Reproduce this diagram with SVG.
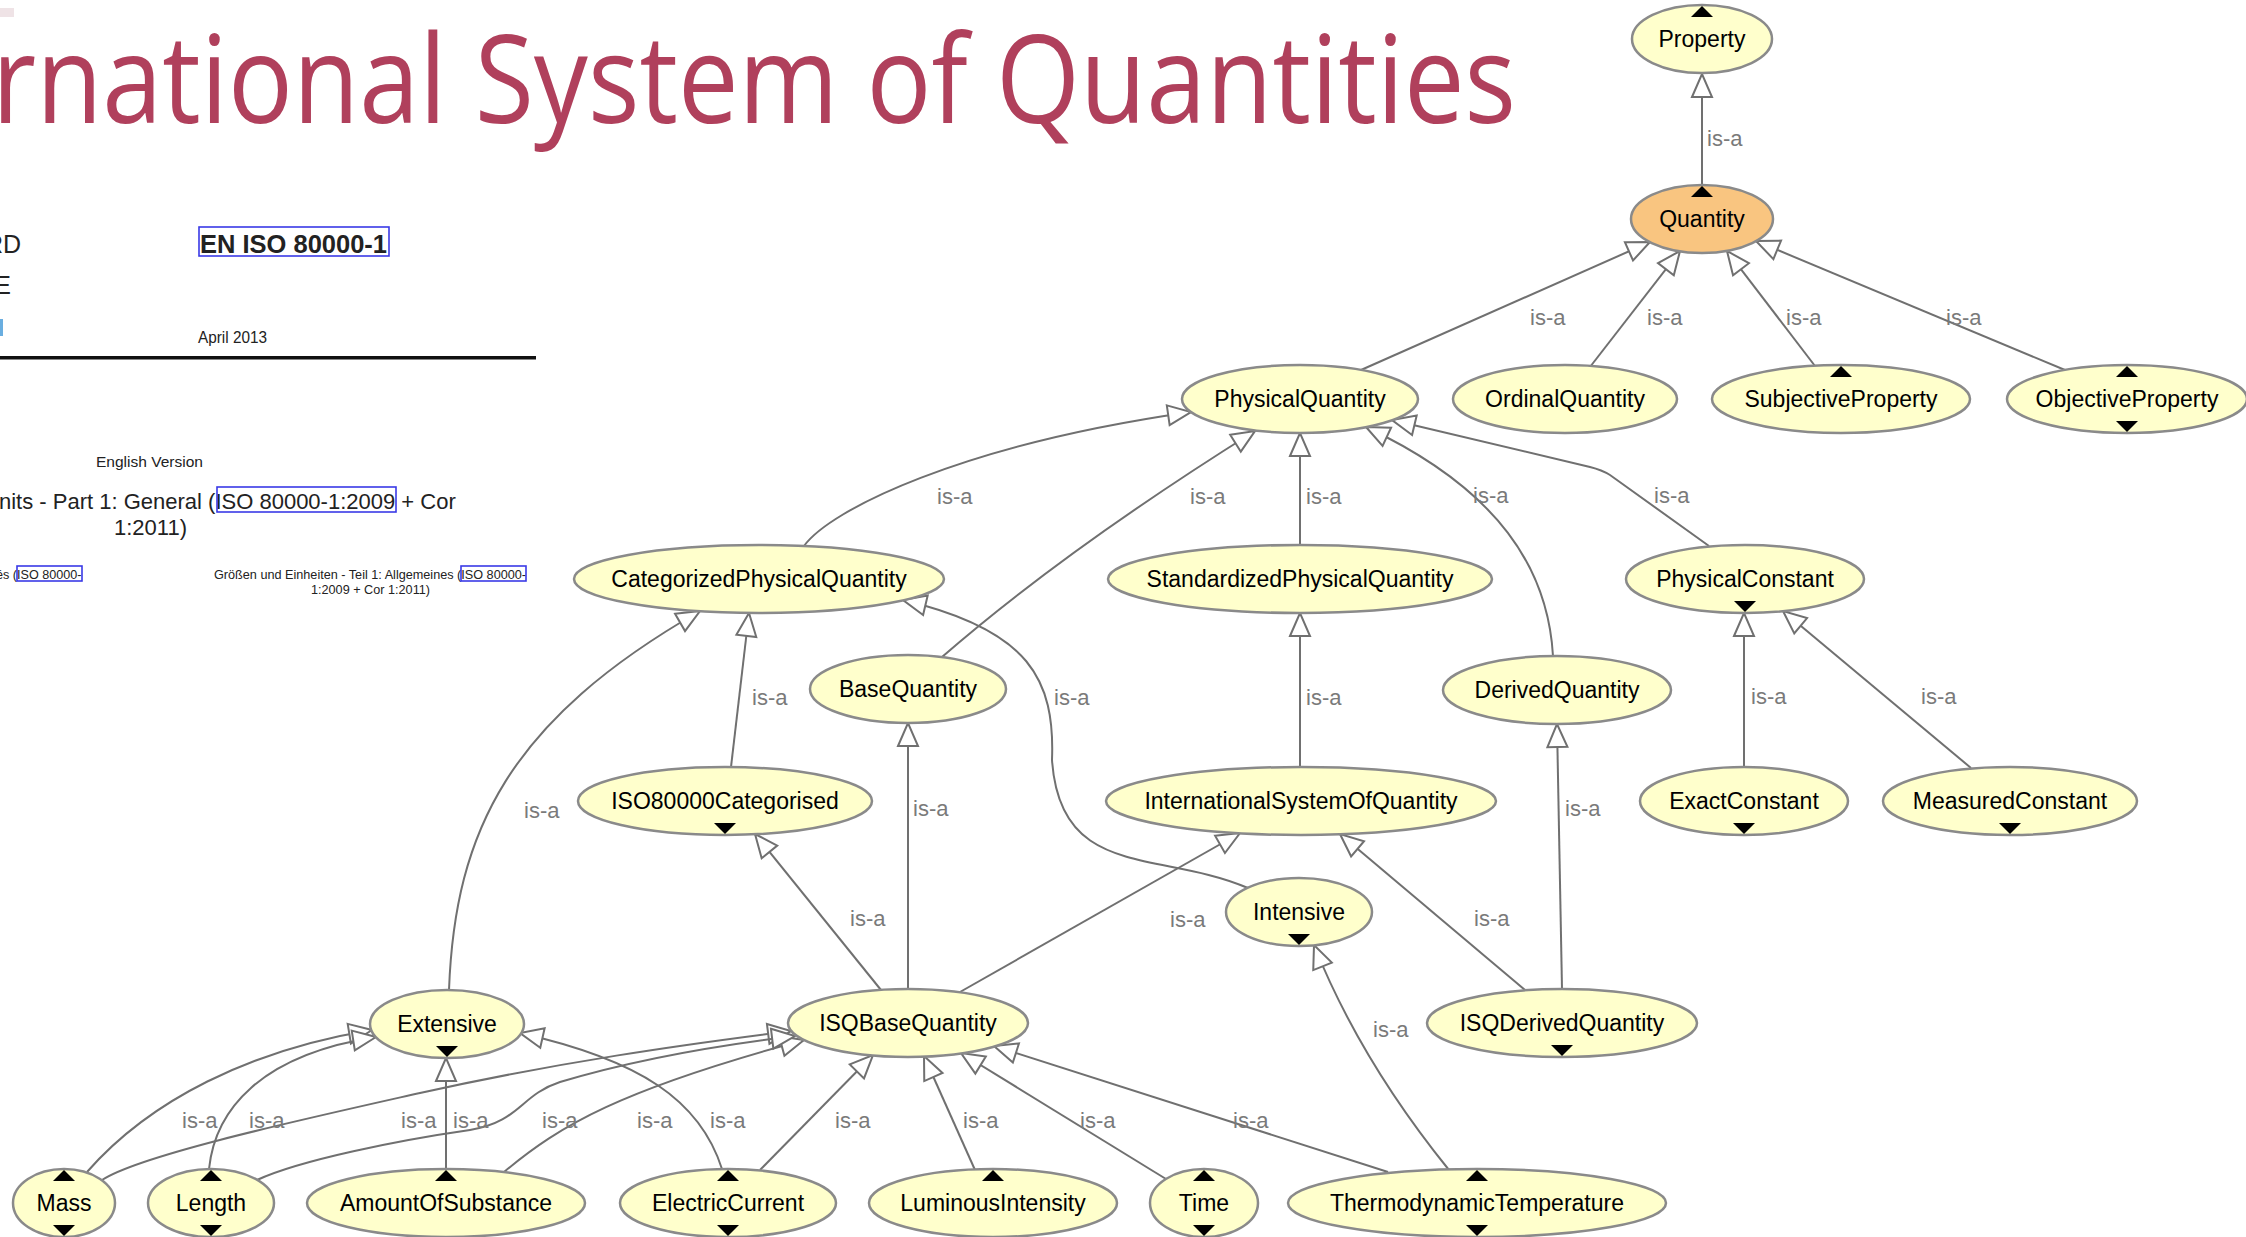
<svg xmlns="http://www.w3.org/2000/svg" width="2246" height="1237" viewBox="0 0 2246 1237">
<defs>
<marker id="ar" markerUnits="userSpaceOnUse" markerWidth="28" markerHeight="26" viewBox="0 0 28 26" refX="25" refY="13" orient="auto">
<path d="M2,3 L25,13 L2,23 Z" fill="#ffffff" stroke="#707070" stroke-width="2" stroke-linejoin="miter"/>
</marker>
<style>
.n ellipse{fill:#ffffcc;stroke:#8a8a8a;stroke-width:2.5}
.n text{font-family:"Liberation Sans",Arial,sans-serif;font-size:23px;text-anchor:middle;fill:#000}
.n polygon{fill:#000}
#Quantity ellipse{fill:#f9c580}
.e path{fill:none;stroke:#707070;stroke-width:2;marker-end:url(#ar)}
.l{font-family:"Liberation Sans",Arial,sans-serif;font-size:22px;fill:#7a7a7a}
.d{font-family:"Liberation Sans",Arial,sans-serif;fill:#222}
.bx{fill:none;stroke:#3a3ae6;stroke-width:1.6}
</style>
</defs>
<rect width="2246" height="1237" fill="#ffffff"/>

<!-- background slide content -->
<g id="slide">
<rect x="0" y="8" width="14" height="9" fill="#efe3e6"/>
<text x="-8" y="123" font-family="Open Sans, sans-serif" font-size="122" fill="#b0405c" textLength="1524" lengthAdjust="spacingAndGlyphs">rnational System of Quantities</text>
<text class="d" x="21" y="253" font-size="25" text-anchor="end" fill="#333">RD</text>
<text class="d" x="11" y="294" font-size="25" text-anchor="end" fill="#333">E</text>
<rect x="0" y="319" width="3" height="17" fill="#6aaee0"/>
<rect class="bx" x="199" y="227" width="190" height="29" stroke-width="2"/>
<text class="d" x="200" y="253" font-size="26" font-weight="bold" fill="#111" textLength="187" lengthAdjust="spacingAndGlyphs">EN ISO 80000-1</text>
<text class="d" x="198" y="343" font-size="16" textLength="69" lengthAdjust="spacingAndGlyphs">April 2013</text>
<rect x="0" y="356" width="536" height="3.5" fill="#111"/>
<text class="d" x="96" y="467" font-size="15" textLength="107" lengthAdjust="spacingAndGlyphs">English Version</text>
<text class="d" x="-1" y="509" font-size="22">nits - Part 1: General (ISO 80000-1:2009 + Cor</text>
<rect class="bx" x="217" y="487" width="179" height="25"/>
<text class="d" x="114" y="535" font-size="22">1:2011)</text>
<text class="d" x="-4" y="579" font-size="12.6">és (ISO 80000-</text>
<rect class="bx" x="17" y="566" width="65" height="15"/>
<text class="d" x="214" y="579" font-size="12.6" textLength="312" lengthAdjust="spacingAndGlyphs">Größen und Einheiten - Teil 1: Allgemeines (ISO 80000-</text>
<rect class="bx" x="461" y="566" width="65" height="15"/>
<text class="d" x="311" y="594" font-size="12.6" textLength="119" lengthAdjust="spacingAndGlyphs">1:2009 + Cor 1:2011)</text>
</g>

<g id="connectors" class="e">
<path d="M1702 185 L1702 74"/>
<path d="M1361 370 L1650 242"/>
<path d="M1590 367 L1680 251"/>
<path d="M1815 366 L1727 251"/>
<path d="M2065 370 L1756 241"/>
<path d="M804 546 C830 510 960 445 1191 412"/>
<path d="M942 657 Q1065 550 1255 431"/>
<path d="M1300 545 L1300 433"/>
<path d="M1553 656 C1548 570 1500 490 1366 427"/>
<path d="M1709 546 L1610 475 Q1602 470 1590 467 L1392 420"/>
<path d="M731 767 L749 613"/>
<path d="M449 990 C455 830 510 720 700 611"/>
<path d="M1248 888 C1160 850 1060 880 1052 760 C1055 680 1030 630 903 600"/>
<path d="M908 989 L908 723"/>
<path d="M881 990 L755 834"/>
<path d="M960 992 L1240 833"/>
<path d="M1300 767 L1300 613"/>
<path d="M1525 990 L1340 834"/>
<path d="M1562 989 L1557 724"/>
<path d="M1744 767 L1744 613"/>
<path d="M1971 768 L1783 611"/>
<path d="M1449 1170 Q1360 1060 1314 945"/>
<path d="M1388 1172 L994 1046"/>
<path d="M1166 1179 L961 1053"/>
<path d="M975 1170 L924 1056"/>
<path d="M760 1170 L873 1055"/>
<path d="M722 1169 C700 1100 640 1060 520 1033"/>
<path d="M446 1169 L446 1058"/>
<path d="M504 1172 C560 1125 620 1090 804 1040"/>
<path d="M87 1172 C150 1100 250 1050 372 1030"/>
<path d="M209 1169 C215 1110 260 1055 376 1037"/>
<path d="M102 1180 C140 1155 300 1120 420 1093 C560 1062 680 1045 791 1031"/>
<path d="M257 1180 C300 1160 400 1140 470 1130 C520 1122 520 1095 560 1082 C640 1058 720 1045 795 1036"/>
<g id="labels">
<text class="l" x="1707" y="146">is-a</text>
<text class="l" x="1530" y="325">is-a</text>
<text class="l" x="1647" y="325">is-a</text>
<text class="l" x="1786" y="325">is-a</text>
<text class="l" x="1946" y="325">is-a</text>
<text class="l" x="937" y="504">is-a</text>
<text class="l" x="1190" y="504">is-a</text>
<text class="l" x="1306" y="504">is-a</text>
<text class="l" x="1473" y="503">is-a</text>
<text class="l" x="1654" y="503">is-a</text>
<text class="l" x="752" y="705">is-a</text>
<text class="l" x="1054" y="705">is-a</text>
<text class="l" x="1306" y="705">is-a</text>
<text class="l" x="1751" y="704">is-a</text>
<text class="l" x="1921" y="704">is-a</text>
<text class="l" x="524" y="818">is-a</text>
<text class="l" x="913" y="816">is-a</text>
<text class="l" x="1565" y="816">is-a</text>
<text class="l" x="850" y="926">is-a</text>
<text class="l" x="1170" y="927">is-a</text>
<text class="l" x="1474" y="926">is-a</text>
<text class="l" x="1373" y="1037">is-a</text>
<text class="l" x="182" y="1128">is-a</text>
<text class="l" x="249" y="1128">is-a</text>
<text class="l" x="401" y="1128">is-a</text>
<text class="l" x="453" y="1128">is-a</text>
<text class="l" x="542" y="1128">is-a</text>
<text class="l" x="637" y="1128">is-a</text>
<text class="l" x="710" y="1128">is-a</text>
<text class="l" x="835" y="1128">is-a</text>
<text class="l" x="963" y="1128">is-a</text>
<text class="l" x="1080" y="1128">is-a</text>
<text class="l" x="1233" y="1128">is-a</text>
</g>
</g>

<g id="Property" class="n"><ellipse cx="1702" cy="39" rx="70" ry="34"/><text x="1702" y="47">Property</text><polygon points="1691,17 1713,17 1702,6"/></g>
<g id="Quantity" class="n"><ellipse cx="1702" cy="219" rx="71" ry="34"/><text x="1702" y="227">Quantity</text><polygon points="1691,197 1713,197 1702,186"/></g>
<g id="PhysicalQuantity" class="n"><ellipse cx="1300" cy="399" rx="118" ry="34"/><text x="1300" y="407">PhysicalQuantity</text></g>
<g id="OrdinalQuantity" class="n"><ellipse cx="1565" cy="399" rx="112" ry="34"/><text x="1565" y="407">OrdinalQuantity</text></g>
<g id="SubjectiveProperty" class="n"><ellipse cx="1841" cy="399" rx="129" ry="34"/><text x="1841" y="407">SubjectiveProperty</text><polygon points="1830,377 1852,377 1841,366"/></g>
<g id="ObjectiveProperty" class="n"><ellipse cx="2127" cy="399" rx="120" ry="34"/><text x="2127" y="407">ObjectiveProperty</text><polygon points="2116,377 2138,377 2127,366"/><polygon points="2116,421 2138,421 2127,432"/></g>
<g id="CategorizedPhysicalQuantity" class="n"><ellipse cx="759" cy="579" rx="185" ry="34"/><text x="759" y="587">CategorizedPhysicalQuantity</text></g>
<g id="StandardizedPhysicalQuantity" class="n"><ellipse cx="1300" cy="579" rx="192" ry="34"/><text x="1300" y="587">StandardizedPhysicalQuantity</text></g>
<g id="PhysicalConstant" class="n"><ellipse cx="1745" cy="579" rx="119" ry="34"/><text x="1745" y="587">PhysicalConstant</text><polygon points="1734,601 1756,601 1745,612"/></g>
<g id="BaseQuantity" class="n"><ellipse cx="908" cy="689" rx="98" ry="34"/><text x="908" y="697">BaseQuantity</text></g>
<g id="DerivedQuantity" class="n"><ellipse cx="1557" cy="690" rx="114" ry="34"/><text x="1557" y="698">DerivedQuantity</text></g>
<g id="ISO80000Categorised" class="n"><ellipse cx="725" cy="801" rx="147" ry="34"/><text x="725" y="809">ISO80000Categorised</text><polygon points="714,823 736,823 725,834"/></g>
<g id="InternationalSystemOfQuantity" class="n"><ellipse cx="1301" cy="801" rx="195" ry="34"/><text x="1301" y="809">InternationalSystemOfQuantity</text></g>
<g id="ExactConstant" class="n"><ellipse cx="1744" cy="801" rx="104" ry="34"/><text x="1744" y="809">ExactConstant</text><polygon points="1733,823 1755,823 1744,834"/></g>
<g id="MeasuredConstant" class="n"><ellipse cx="2010" cy="801" rx="127" ry="34"/><text x="2010" y="809">MeasuredConstant</text><polygon points="1999,823 2021,823 2010,834"/></g>
<g id="Intensive" class="n"><ellipse cx="1299" cy="912" rx="73" ry="34"/><text x="1299" y="920">Intensive</text><polygon points="1288,934 1310,934 1299,945"/></g>
<g id="Extensive" class="n"><ellipse cx="447" cy="1024" rx="77" ry="34"/><text x="447" y="1032">Extensive</text><polygon points="436,1046 458,1046 447,1057"/></g>
<g id="ISQBaseQuantity" class="n"><ellipse cx="908" cy="1023" rx="120" ry="34"/><text x="908" y="1031">ISQBaseQuantity</text></g>
<g id="ISQDerivedQuantity" class="n"><ellipse cx="1562" cy="1023" rx="135" ry="34"/><text x="1562" y="1031">ISQDerivedQuantity</text><polygon points="1551,1045 1573,1045 1562,1056"/></g>
<g id="Mass" class="n"><ellipse cx="64" cy="1203" rx="51" ry="34"/><text x="64" y="1211">Mass</text><polygon points="53,1181 75,1181 64,1170"/><polygon points="53,1225 75,1225 64,1236"/></g>
<g id="Length" class="n"><ellipse cx="211" cy="1203" rx="63" ry="34"/><text x="211" y="1211">Length</text><polygon points="200,1181 222,1181 211,1170"/><polygon points="200,1225 222,1225 211,1236"/></g>
<g id="AmountOfSubstance" class="n"><ellipse cx="446" cy="1203" rx="139" ry="34"/><text x="446" y="1211">AmountOfSubstance</text><polygon points="435,1181 457,1181 446,1170"/></g>
<g id="ElectricCurrent" class="n"><ellipse cx="728" cy="1203" rx="108" ry="34"/><text x="728" y="1211">ElectricCurrent</text><polygon points="717,1181 739,1181 728,1170"/><polygon points="717,1225 739,1225 728,1236"/></g>
<g id="LuminousIntensity" class="n"><ellipse cx="993" cy="1203" rx="124" ry="34"/><text x="993" y="1211">LuminousIntensity</text><polygon points="982,1181 1004,1181 993,1170"/></g>
<g id="Time" class="n"><ellipse cx="1204" cy="1203" rx="54" ry="34"/><text x="1204" y="1211">Time</text><polygon points="1193,1181 1215,1181 1204,1170"/><polygon points="1193,1225 1215,1225 1204,1236"/></g>
<g id="ThermodynamicTemperature" class="n"><ellipse cx="1477" cy="1203" rx="189" ry="34"/><text x="1477" y="1211">ThermodynamicTemperature</text><polygon points="1466,1181 1488,1181 1477,1170"/><polygon points="1466,1225 1488,1225 1477,1236"/></g>
</svg>
